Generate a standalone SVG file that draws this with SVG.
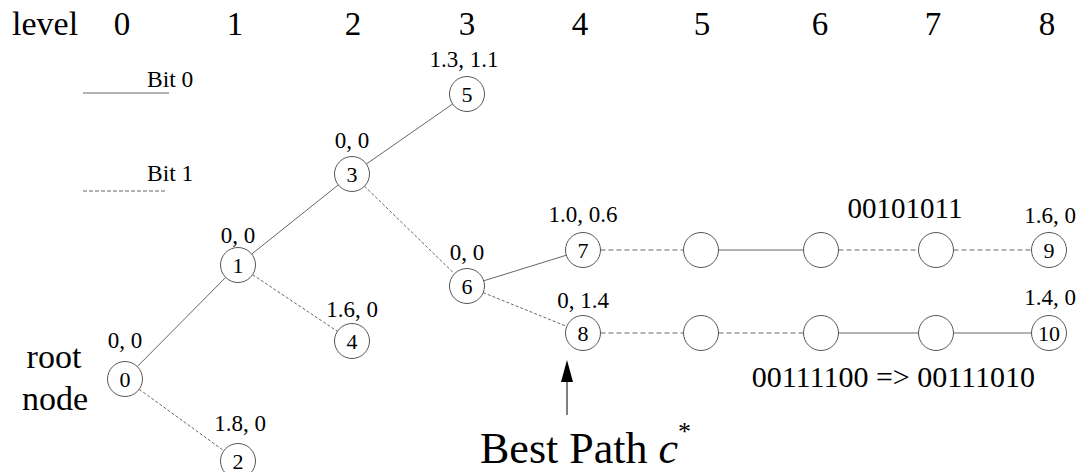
<svg xmlns="http://www.w3.org/2000/svg" width="1084" height="472" viewBox="0 0 1084 472">
<style>
text { font-family: "Liberation Serif", "Times New Roman", serif; fill: #000; }
.big { font-size: 33px; text-anchor: middle; }
.lbl { font-size: 23px; text-anchor: middle; }
.num { font-size: 22px; text-anchor: middle; }
.bits { font-size: 29px; text-anchor: middle; }
.node circle { fill: #fff; stroke: #555; stroke-width: 1; }
.s { stroke: #666; stroke-width: 1; fill: none; }
.d { stroke: #666; stroke-width: 1; fill: none; stroke-dasharray: 3 2; }
.h { stroke: #666; stroke-width: 1; fill: none; stroke-dasharray: 5 3; }
</style>
<rect width="1084" height="472" fill="#fff"/>

<g id="levels">
<text x="12" y="35" style="font-size:34px">level</text>
<text class="big" x="122" y="35">0</text>
<text class="big" x="235" y="35">1</text>
<text class="big" x="353" y="35">2</text>
<text class="big" x="467" y="35">3</text>
<text class="big" x="580" y="35">4</text>
<text class="big" x="702" y="35">5</text>
<text class="big" x="820" y="35">6</text>
<text class="big" x="933" y="35">7</text>
<text class="big" x="1047" y="35">8</text>
</g>

<g id="legend">
<line class="s" x1="83" y1="93" x2="169" y2="93"/>
<text x="147" y="87" style="font-size:23.5px">Bit 0</text>
<line class="h" x1="83" y1="191" x2="167" y2="191" style="stroke-dasharray:4 2"/>
<text x="147" y="181" style="font-size:23.5px">Bit 1</text>
</g>

<g id="connectors">
<line class="s" x1="137.3" y1="366.6" x2="225.7" y2="277.4"/>
<line class="d" x1="139.2" y1="389.3" x2="223.8" y2="450.7"/>
<line class="s" x1="251.7" y1="254.1" x2="338.3" y2="184.9"/>
<line class="d" x1="252.6" y1="274.7" x2="337.4" y2="331.3"/>
<line class="s" x1="366.4" y1="164" x2="452.6" y2="104"/>
<line class="d" x1="364.5" y1="186.2" x2="454.5" y2="273.8"/>
<line class="s" x1="483.7" y1="280.8" x2="566.3" y2="255.2"/>
<line class="d" x1="483.2" y1="292.6" x2="566.8" y2="326.4"/>
<line class="h" x1="600.5" y1="250" x2="683.5" y2="250"/>
<line class="s" x1="718.5" y1="250" x2="803.5" y2="250"/>
<line class="h" x1="838.5" y1="250" x2="918.5" y2="250"/>
<line class="h" x1="953.5" y1="250" x2="1031.5" y2="250"/>
<line class="h" x1="600.5" y1="333" x2="683.5" y2="333"/>
<line class="h" x1="718.5" y1="333" x2="803.5" y2="333"/>
<line class="s" x1="838.5" y1="333" x2="918.5" y2="333"/>
<line class="s" x1="953.5" y1="333" x2="1031.5" y2="333"/>
</g>

<g id="node0" class="node"><circle cx="125" cy="379" r="17.5"/><text class="num" x="125" y="387">0</text><text class="lbl" x="125" y="348">0, 0</text></g>
<g id="node1" class="node"><circle cx="238" cy="265" r="17.5"/><text class="num" x="238" y="273">1</text><text class="lbl" x="238" y="243">0, 0</text></g>
<g id="node2" class="node"><circle cx="238" cy="461" r="17.5"/><text class="num" x="238" y="469">2</text><text class="lbl" x="240" y="431">1.8, 0</text></g>
<g id="node3" class="node"><circle cx="352" cy="174" r="17.5"/><text class="num" x="352" y="182">3</text><text class="lbl" x="352" y="148">0, 0</text></g>
<g id="node4" class="node"><circle cx="352" cy="341" r="17.5"/><text class="num" x="352" y="349">4</text><text class="lbl" x="352" y="317">1.6, 0</text></g>
<g id="node5" class="node"><circle cx="467" cy="94" r="17.5"/><text class="num" x="467" y="102">5</text><text class="lbl" x="464" y="67">1.3, 1.1</text></g>
<g id="node6" class="node"><circle cx="467" cy="286" r="17.5"/><text class="num" x="467" y="294">6</text><text class="lbl" x="467" y="260">0, 0</text></g>
<g id="node7" class="node"><circle cx="583" cy="250" r="17.5"/><text class="num" x="583" y="258">7</text><text class="lbl" x="583" y="222">1.0, 0.6</text></g>
<g id="node8" class="node"><circle cx="583" cy="333" r="17.5"/><text class="num" x="583" y="341">8</text><text class="lbl" x="583" y="308">0, 1.4</text></g>
<g id="node7a" class="node"><circle cx="701" cy="250" r="17.5"/></g>
<g id="node7b" class="node"><circle cx="821" cy="250" r="17.5"/></g>
<g id="node7c" class="node"><circle cx="936" cy="250" r="17.5"/></g>
<g id="node8a" class="node"><circle cx="701" cy="333" r="17.5"/></g>
<g id="node8b" class="node"><circle cx="821" cy="333" r="17.5"/></g>
<g id="node8c" class="node"><circle cx="936" cy="333" r="17.5"/></g>
<g id="node9" class="node"><circle cx="1049" cy="250" r="17.5"/><text class="num" x="1049" y="258">9</text><text class="lbl" x="1050" y="223">1.6, 0</text></g>
<g id="node10" class="node"><circle cx="1049" cy="333" r="17.5"/><text class="num" x="1049" y="341">10</text><text class="lbl" x="1050" y="305">1.4, 0</text></g>

<g id="annotations">
<text x="54" y="368" style="font-size:34px;text-anchor:middle">root</text>
<text x="55" y="410" style="font-size:34px;text-anchor:middle">node</text>
<text class="bits" x="905" y="218">00101011</text>
<text x="1035" y="387" style="font-size:30px;text-anchor:end">00111100 =&gt; 00111010</text>
<line x1="567" y1="415" x2="567" y2="380" stroke="#000" stroke-width="1"/>
<polygon points="567,360 561,382 573,382" fill="#000"/>
<text x="480" y="463" style="font-size:44px">Best Path <tspan font-style="italic">c</tspan><tspan dy="-23" style="font-size:26px">*</tspan></text>
</g>
</svg>
